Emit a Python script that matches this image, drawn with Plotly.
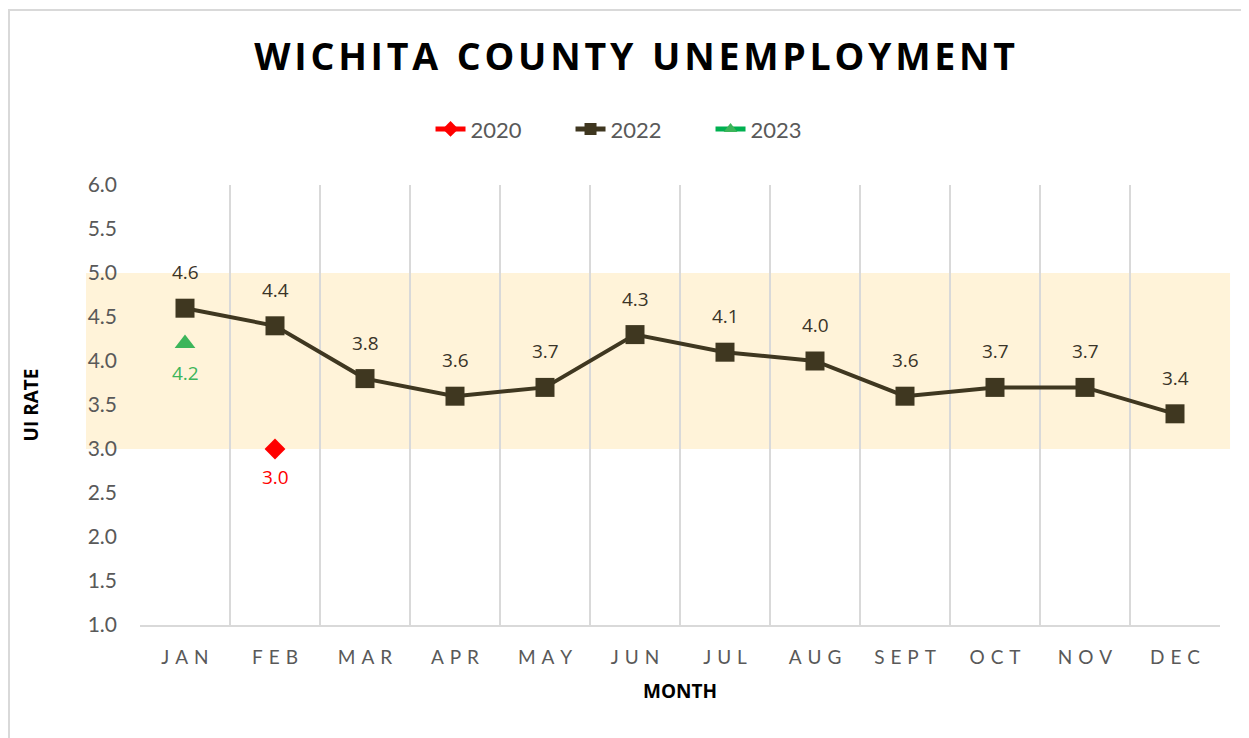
import plotly.graph_objects as go

# Wichita County unemployment (UI rate) by month
months = ['JAN', 'FEB', 'MAR', 'APR', 'MAY', 'JUN', 'JUL', 'AUG', 'SEPT', 'OCT', 'NOV', 'DEC']
rate_2022 = [4.6, 4.4, 3.8, 3.6, 3.7, 4.3, 4.1, 4.0, 3.6, 3.7, 3.7, 3.4]
rate_2020 = [None, 3.0, None, None, None, None, None, None, None, None, None, None]
rate_2023 = [4.2, None, None, None, None, None, None, None, None, None, None, None]
band_low, band_high = 3.0, 5.0

tick_text = ['\u2005\u200a'.join(m) for m in months]
title_text = '\u2002'.join('\u200a'.join(w) for w in ['WICHITA', 'COUNTY', 'UNEMPLOYMENT'])

line_col = '#3f3720'
grey_txt = '#595959'

fig = go.Figure()
fig.add_trace(go.Scatter(
    x=months, y=rate_2020, name='2020', mode='lines+markers',
    line=dict(color='#ff0000', width=4),
    marker=dict(symbol='diamond', size=16, color='#ff0000'),
))
fig.add_trace(go.Scatter(
    x=months, y=rate_2022, name='2022', mode='lines+markers',
    line=dict(color=line_col, width=4),
    marker=dict(symbol='square', size=19, color=line_col),
))
fig.add_trace(go.Scatter(
    x=months, y=rate_2023, name='2023', mode='lines+markers',
    line=dict(color='#00b050', width=4),
    marker=dict(symbol='triangle-up', size=18, color='#3cb55a'),
))

# data labels
for m, v in zip(months, rate_2022):
    fig.add_annotation(x=m, y=v, text=f'{v:.1f}', showarrow=False, yshift=36,
                       font=dict(family='Open Sans', size=19, color='#3a3428'))
for m, v in zip(months, rate_2023):
    if v is not None:
        fig.add_annotation(x=m, y=v, text=f'{v:.1f}', showarrow=False, yshift=-30,
                           font=dict(family='Open Sans', size=19, color='#3cb55a'))
for m, v in zip(months, rate_2020):
    if v is not None:
        fig.add_annotation(x=m, y=v, text=f'{v:.1f}', showarrow=False, yshift=-28,
                           font=dict(family='Open Sans', size=19, color='#ff0000'))

# shaded band 3.0 - 5.0
fig.add_shape(type='rect', xref='paper', yref='y', x0=-0.05, x1=1.0093,
              y0=band_low, y1=band_high, fillcolor='#fff3d9', line_width=0, layer='below')
# outer chart border
fig.add_shape(type='rect', xref='paper', yref='paper', x0=-0.1213, x1=1.2,
              y0=-0.5, y1=1.398, line=dict(color='#d9d9d9', width=2), fillcolor='rgba(0,0,0,0)')

fig.update_layout(
    width=1241, height=730,
    margin=dict(l=132, r=29, t=177, b=113, autoexpand=False),
    plot_bgcolor='white', paper_bgcolor='white',
    font=dict(family='Open Sans', color=grey_txt),
    title=dict(text='<b>' + title_text + '</b>',
               x=0.505, xanchor='center', y=0.933, yanchor='middle',
               font=dict(family='Open Sans', size=37.5, color='#000000')),
    legend=dict(orientation='h', x=0.269, xanchor='left', y=1.127, yanchor='middle',
                font=dict(family='Lato', size=22, color=grey_txt),
                entrywidth=95, entrywidthmode='pixels',
                bgcolor='rgba(0,0,0,0)', itemsizing='constant'),
    showlegend=True,
    xaxis=dict(
        type='category', categoryorder='array', categoryarray=months,
        tickmode='array', tickvals=months, ticktext=tick_text,
        tickson='boundaries', showgrid=True, gridcolor='#d9d9d9', gridwidth=2,
        showline=True, linecolor='#d9d9d9', linewidth=2,
        ticks='', ticklabelstandoff=14, automargin=False,
        tickfont=dict(family='Lato', size=19, color=grey_txt),
        title=dict(text='<b>MONTH</b>', standoff=18,
                   font=dict(family='Open Sans', size=19, color='#000000')),
        range=[-0.5, 11.5], zeroline=False,
    ),
    yaxis=dict(
        range=[1.0, 6.0], tickmode='array', tickvals=[1.0, 1.5, 2.0, 2.5, 3.0, 3.5, 4.0, 4.5, 5.0, 5.5, 6.0],
        tickformat='.1f', showgrid=False, zeroline=False, showline=False,
        ticks='', ticklabelstandoff=22, automargin=False,
        tickfont=dict(family='Lato', size=21, color=grey_txt),
        title=dict(text='<b>UI RATE</b>', standoff=44,
                   font=dict(family='Open Sans', size=19, color='#000000')),
    ),
)

fig.write_html('out.html')
